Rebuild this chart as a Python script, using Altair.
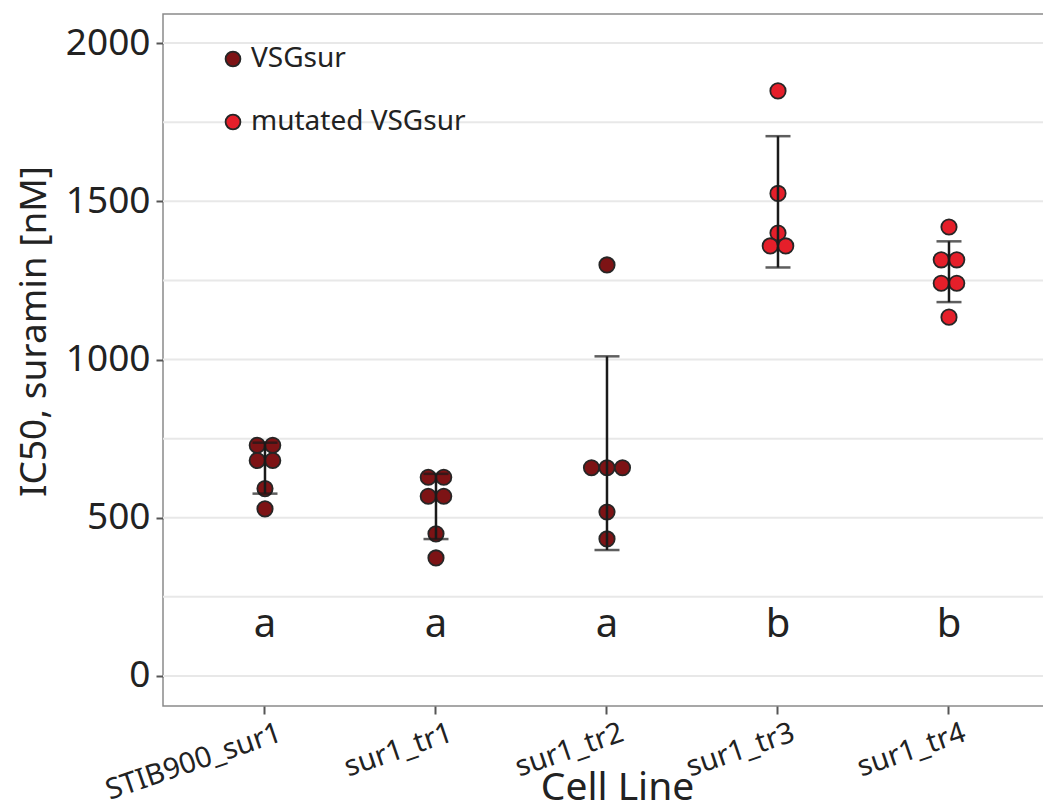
import altair as alt
import pandas as pd
from collections import Counter, defaultdict

# ---- data ----
cells = ["STIB900_sur1", "sur1_tr1", "sur1_tr2", "sur1_tr3", "sur1_tr4"]
groups = ["VSGsur", "VSGsur", "VSGsur", "mutated VSGsur", "mutated VSGsur"]
ic50_stib900_sur1 = [729, 729, 681, 681, 592, 528]
ic50_sur1_tr1 = [628, 628, 568, 568, 449, 373]
ic50_sur1_tr2 = [1299, 658, 658, 658, 518, 433]
ic50_sur1_tr3 = [1849, 1525, 1400, 1359, 1359]
ic50_sur1_tr4 = [1419, 1315, 1315, 1241, 1241, 1134]
letters = ["a", "a", "a", "b", "b"]
y_ticks = [0, 500, 1000, 1500, 2000]
grid_values = [0, 250, 500, 750, 1000, 1250, 1500, 1750, 2000]

series = [ic50_stib900_sur1, ic50_sur1_tr1, ic50_sur1_tr2, ic50_sur1_tr3, ic50_sur1_tr4]

# build point table with a dodge index for tied values
rows = []
for cell, grp, vals in zip(cells, groups, series):
    counts = Counter(vals)
    seen = defaultdict(int)
    for v in vals:
        k = counts[v]
        i = seen[v]
        seen[v] += 1
        rows.append({"cell": cell, "group": grp, "ic50": v, "dodge": i - (k - 1) / 2})
points_df = pd.DataFrame(rows)
letters_df = pd.DataFrame({"cell": cells, "letter": letters, "ly": [123] * len(cells)})
grid_df = pd.DataFrame({"g": grid_values})

FONT = "Noto Sans"
TXT = "#222222"

xscale = alt.Scale(domain=cells, paddingInner=0, paddingOuter=0.0994, align=0.485)
yscale = alt.Scale(domain=[-95, 2092], nice=False, zero=False)

xaxis = alt.Axis(
    labelAngle=-19, labelAlign="right", labelBaseline="top", labelLimit=0,
    labelFontSize=29, labelOffset=11, labelPadding=4, labelColor=TXT,
    tickSize=8, tickWidth=2, tickColor="#555555", domain=False, grid=False,
    title="Cell Line", titleFontSize=39, titleFontWeight="normal", titleColor=TXT,
    titleX=454, titleY=93, titleAlign="center", titleBaseline="alphabetic",
)
yaxis = alt.Axis(
    values=y_ticks, format="d", grid=False, domain=False,
    tickSize=7, tickWidth=2, tickColor="#555555",
    labelFontSize=37, labelPadding=6, labelColor=TXT,
    title="IC50, suramin [nM]", titleFontSize=37, titleFontWeight="normal", titleColor=TXT,
    titleX=-118, titleY=317, titleAngle=270, titleAlign="center", titleBaseline="alphabetic",
)

grid = alt.Chart(grid_df).mark_rule(color="#e8e8e8", strokeWidth=2).encode(
    y=alt.Y("g:Q", scale=yscale, axis=yaxis)
)

pts = alt.Chart(points_df).mark_circle(size=235, opacity=1, stroke="#262626", strokeWidth=1.8).encode(
    x=alt.X("cell:N", scale=xscale, axis=xaxis, sort=cells),
    xOffset=alt.XOffset("dodge:Q", scale=alt.Scale(domain=[-5.52, 5.52])),
    y=alt.Y("ic50:Q", scale=yscale),
    color=alt.Color(
        "group:N",
        scale=alt.Scale(domain=["VSGsur", "mutated VSGsur"], range=["#7d1315", "#e51f2a"]),
        legend=alt.Legend(title=None),
    ),
)

err = alt.Chart(points_df).mark_errorbar(
    extent="stdev",
    ticks=alt.TickConfig(size=25, thickness=2.5),
    rule=alt.MarkConfig(strokeWidth=2.5),
    color="#1a1a1a",
).encode(
    x=alt.X("cell:N", scale=xscale, sort=cells),
    y=alt.Y("ic50:Q", scale=yscale, title="IC50, suramin [nM]"),
)

txt = alt.Chart(letters_df).mark_text(fontSize=40, baseline="alphabetic", color=TXT, font=FONT).encode(
    x=alt.X("cell:N", scale=xscale, sort=cells),
    y=alt.Y("ly:Q", scale=yscale),
    text="letter:N",
)

chart = alt.layer(grid, pts, err, txt).properties(
    width=889, height=692,
    autosize=alt.AutoSizeParams(type="none"),
    padding={"left": 163, "top": 14, "right": -9, "bottom": 104},
).configure(
    font=FONT,
).configure_view(
    stroke="#8a8a8a", strokeWidth=1.5
).configure_legend(
    orient="none", legendX=56, legendY=31, padding=0,
    symbolSize=220, symbolType="circle", symbolStrokeColor="#262626", symbolStrokeWidth=1.8,
    symbolOpacity=1, labelLimit=0,
    labelFontSize=28, labelColor=TXT, labelOffset=4, rowPadding=35,
)

chart.save("out.html", embed_options={"renderer": "svg", "actions": False})
